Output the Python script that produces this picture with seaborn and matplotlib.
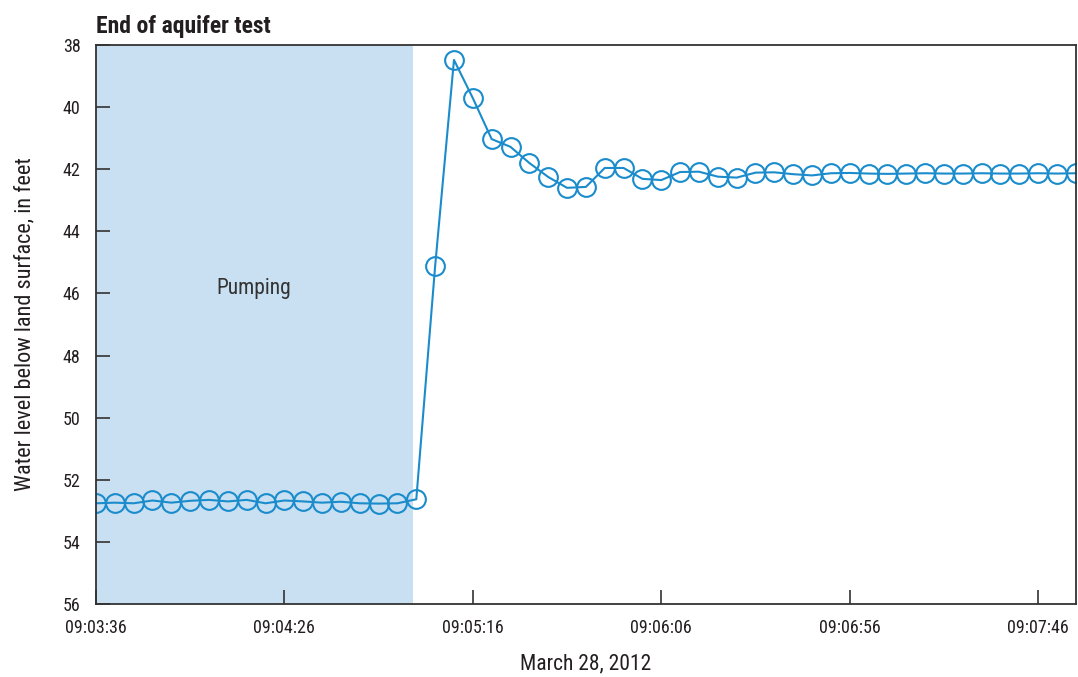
import pandas as pd
import matplotlib
matplotlib.use("Agg")
import matplotlib.pyplot as plt
import matplotlib.dates as mdates
import seaborn as sns
from matplotlib import font_manager

# Water level readings at end of aquifer test, March 28, 2012 (every 5 seconds)
times = [
    "09:03:36", "09:03:41", "09:03:46", "09:03:51", "09:03:56", "09:04:01",
    "09:04:06", "09:04:11", "09:04:16", "09:04:21", "09:04:26", "09:04:31",
    "09:04:36", "09:04:41", "09:04:46", "09:04:51", "09:04:56", "09:05:01",
    "09:05:06", "09:05:11", "09:05:16", "09:05:21", "09:05:26", "09:05:31",
    "09:05:36", "09:05:41", "09:05:46", "09:05:51", "09:05:56", "09:06:01",
    "09:06:06", "09:06:11", "09:06:16", "09:06:21", "09:06:26", "09:06:31",
    "09:06:36", "09:06:41", "09:06:46", "09:06:51", "09:06:56", "09:07:01",
    "09:07:06", "09:07:11", "09:07:16", "09:07:21", "09:07:26", "09:07:31",
    "09:07:36", "09:07:41", "09:07:46", "09:07:51", "09:07:56",
]
water_level = [
    52.76, 52.74, 52.76, 52.67, 52.74, 52.68, 52.65, 52.70, 52.65, 52.76,
    52.67, 52.70, 52.74, 52.71, 52.76, 52.77, 52.76, 52.63,
    45.12, 38.48, 39.71, 41.03, 41.28, 41.80, 42.25, 42.60, 42.57, 41.96,
    41.96, 42.31, 42.35, 42.09, 42.08, 42.24, 42.27, 42.11, 42.10, 42.16,
    42.20, 42.13, 42.12, 42.14, 42.15, 42.14, 42.13, 42.14, 42.14, 42.13,
    42.14, 42.14, 42.13, 42.14, 42.13,
]
tick_labels = ["09:03:36", "09:04:26", "09:05:16", "09:06:06", "09:06:56", "09:07:46"]
pumping_start = "09:03:36"
pumping_end = "09:05:00"
date = "2012-03-28"

to_dt = lambda t: pd.Timestamp(f"{date} {t}")

df = pd.DataFrame({
    "time": [to_dt(t) for t in times],
    "level": water_level,
})

sns.set_style("ticks")
# narrow font if available, otherwise Liberation Sans
installed = {f.name for f in font_manager.fontManager.ttflist}
fams = [f for f in ["Roboto Condensed", "Liberation Sans Narrow", "Liberation Sans"] if f in installed]
plt.rcParams["font.family"] = fams + ["DejaVu Sans"]

line_color = "#1a8ccc"
text_color = "#231f20"

fig = plt.figure(figsize=(10.78, 6.77), dpi=100)
ax = fig.add_axes([0.089, 0.108, 0.909, 0.8255])

# pumping period shading
ax.axvspan(to_dt(pumping_start), to_dt(pumping_end), color="#c9e0f2", lw=0, zorder=0)

sns.lineplot(
    data=df, x="time", y="level", ax=ax,
    color=line_color, linewidth=1.5,
    marker="o", markersize=13.5, markerfacecolor="none",
    markeredgecolor=line_color, markeredgewidth=1.5,
)

ax.set_xlim(to_dt("09:03:36"), to_dt("09:07:56"))
ax.set_ylim(56, 38)
ax.set_yticks(range(38, 57, 2))
ax.set_xticks([to_dt(t) for t in tick_labels])
ax.xaxis.set_major_formatter(mdates.DateFormatter("%H:%M:%S"))

ax.tick_params(direction="in", length=10, width=1.2, color="#333333",
               labelsize=13, labelcolor=text_color, pad=11)
for s in ax.spines.values():
    s.set_color("#333333")
    s.set_linewidth(1.3)

ax.text(to_dt("09:04:18"), 45.85, "Pumping", fontsize=15.5, color="#333333",
        ha="center", va="center")

ax.set_xlabel("March 28, 2012", fontsize=15.5, color=text_color, labelpad=12)
ax.set_ylabel("Water level below land surface, in feet", fontsize=16,
              color=text_color, labelpad=20)
ax.set_title("End of aquifer test", loc="left", fontsize=17, fontweight="bold",
             color=text_color, pad=9)

fig.savefig("out.png", dpi=100)
